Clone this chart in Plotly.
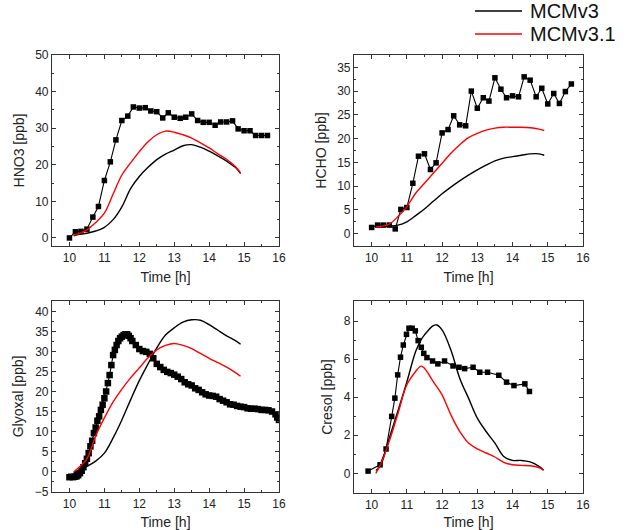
import plotly.graph_objects as go

hno3_meas_t = [10.0, 10.17, 10.33, 10.5, 10.67, 10.83, 11.0, 11.17, 11.33, 11.5, 11.67, 11.83,
               12.0, 12.17, 12.33, 12.5, 12.67, 12.83, 13.0, 13.17, 13.33, 13.5, 13.67, 13.83,
               14.0, 14.17, 14.33, 14.5, 14.67, 14.83, 15.0, 15.17, 15.33, 15.5, 15.67]
hno3_meas = [0.0, 1.7, 1.8, 2.4, 5.7, 8.6, 15.7, 20.8, 26.8, 32.1, 33.3, 35.8,
             35.5, 35.6, 34.7, 34.5, 32.8, 34.2, 33.0, 32.7, 33.0, 33.9, 32.1, 31.6,
             31.6, 30.8, 31.7, 31.7, 32.0, 29.8, 29.3, 29.3, 28.0, 28.0, 28.0]

hcho_meas_t = hno3_meas_t
hcho_meas = [1.3, 1.8, 1.8, 1.8, 1.0, 5.1, 5.5, 10.6, 16.3, 16.8, 13.5, 14.9,
             21.2, 21.9, 24.8, 22.9, 22.7, 30.0, 26.4, 28.6, 27.9, 32.8, 30.4, 28.6,
             29.0, 28.8, 33.0, 32.3, 28.8, 30.6, 27.3, 29.5, 27.4, 29.9, 31.5]

model_t = [10.12, 10.25, 10.5, 10.75, 11.0, 11.25, 11.5, 11.75, 12.0, 12.25, 12.5,
           12.75, 13.0, 13.25, 13.5, 13.75, 14.0, 14.25, 14.5, 14.75, 14.9]
hno3_v3 = [0.6, 0.9, 1.3, 1.9, 2.9, 5.0, 8.5, 13.5, 16.8, 19.3, 21.4,
           22.9, 24.0, 25.2, 25.5, 24.8, 23.7, 22.4, 21.0, 19.3, 17.6]
hno3_v31 = [0.8, 1.1, 2.2, 4.2, 6.8, 12.0, 17.2, 20.5, 23.6, 26.3, 28.2,
            29.2, 28.9, 28.2, 27.3, 26.0, 24.6, 23.0, 21.5, 19.5, 17.8]
hcho_v3 = [1.5, 1.5, 1.6, 1.8, 2.5, 3.8, 5.2, 6.8, 8.4, 9.8, 11.1,
           12.3, 13.4, 14.4, 15.3, 15.9, 16.2, 16.5, 16.8, 16.8, 16.5]
hcho_v31 = [1.4, 1.5, 2.0, 3.6, 5.7, 8.5, 10.6, 12.7, 14.8, 16.9, 18.7,
            20.2, 21.1, 21.8, 22.2, 22.4, 22.4, 22.4, 22.3, 22.0, 21.7]

glyoxal_meas_t = [10.0, 10.05, 10.1, 10.15, 10.2, 10.25, 10.3, 10.35, 10.4, 10.45, 10.5,
                  10.55, 10.6, 10.65, 10.7, 10.75, 10.8, 10.85, 10.9, 10.95, 11.0,
                  11.05, 11.1, 11.15, 11.2, 11.25, 11.3, 11.35, 11.4, 11.45, 11.5,
                  11.55, 11.6, 11.65, 11.7, 11.75, 11.8, 11.9, 12.0, 12.1, 12.2,
                  12.3, 12.4, 12.5, 12.6, 12.7, 12.8, 12.9, 13.0, 13.1, 13.2,
                  13.3, 13.4, 13.5, 13.6, 13.7, 13.8, 13.9, 14.0, 14.1, 14.2,
                  14.3, 14.4, 14.5, 14.6, 14.7, 14.8, 14.9, 15.0, 15.1, 15.2,
                  15.3, 15.4, 15.5, 15.6, 15.7, 15.8, 15.9, 15.95, 16.0]
glyoxal_meas = [-1.3, -1.2, -1.3, -1.2, -1.1, -0.8, -0.3, 0.3, 1.2, 2.2, 3.3,
                4.7, 6.4, 7.8, 9.7, 11.1, 12.8, 13.9, 15.5, 16.8, 18.4,
                20.1, 22.2, 24.2, 26.7, 29.2, 30.5, 31.7, 32.7, 33.4, 33.8,
                34.2, 34.4, 34.4, 34.0, 33.4, 32.7, 31.7, 30.7, 30.2, 30.0,
                29.5, 28.4, 27.0, 26.2, 25.5, 25.0, 24.7, 24.3, 23.8, 23.2,
                22.4, 21.9, 21.6, 20.9, 20.5, 19.9, 19.4, 19.1, 19.0, 18.8,
                18.2, 17.8, 17.4, 16.9, 16.8, 16.5, 16.3, 16.2, 15.9, 15.8,
                15.8, 15.7, 15.5, 15.5, 15.4, 15.1, 14.4, 13.6, 13.0]
glyoxal_v3 = [-0.2, 0.4, 1.4, 2.7, 4.7, 8.5, 13.0, 18.0, 22.8, 27.0, 31.0,
              34.2, 36.0, 37.4, 38.0, 37.9, 36.8, 35.4, 34.0, 32.8, 31.9]
glyoxal_v31 = [0.0, 1.0, 3.3, 9.0, 13.5, 17.5, 20.7, 23.5, 26.0, 28.5, 30.5,
               31.6, 32.1, 31.6, 30.8, 29.6, 28.4, 27.3, 26.2, 24.8, 23.9]

cresol_meas_t = [9.9, 10.24, 10.41, 10.57, 10.66, 10.74, 10.82, 10.9, 10.99, 11.06,
                 11.15, 11.24, 11.32, 11.41, 11.48, 11.57, 11.73, 11.88, 12.07, 12.31,
                 12.48, 12.64, 12.88, 13.07, 13.29, 13.61, 13.83, 14.04, 14.35, 14.48]
cresol_meas = [0.12, 0.45, 1.28, 2.99, 3.95, 5.17, 6.1, 6.74, 7.3, 7.62,
               7.62, 7.48, 6.97, 6.62, 6.3, 6.08, 5.9, 5.75, 5.9, 5.64,
               5.57, 5.5, 5.57, 5.31, 5.31, 5.15, 4.79, 4.61, 4.7, 4.3]
cresol_model_t = [10.12, 10.25, 10.5, 10.75, 11.0, 11.25, 11.4, 11.5, 11.75, 11.85, 12.0, 12.25,
                  12.5, 12.75, 13.0, 13.25, 13.5, 13.75, 14.0, 14.25, 14.5, 14.75, 14.88]
cresol_v3 = [0.15, 0.4, 1.85, 3.3, 4.8, 6.4, 7.0, 7.27, 7.76, 7.79, 7.53, 6.48,
             5.0, 3.95, 2.9, 2.2, 1.59, 0.89, 0.68, 0.68, 0.6, 0.37, 0.17]
cresol_v31 = [0.0, 0.45, 1.68, 3.16, 4.65, 5.35, 5.63, 5.52, 4.82, 4.55, 4.12, 3.07,
              2.2, 1.59, 1.29, 1.07, 0.86, 0.58, 0.45, 0.42, 0.40, 0.3, 0.17]

W, H = 634, 530
FONT = "Liberation Sans, Arial, sans-serif"

panels = [
    # (meas_t, meas, model t, v3, v3.1, y title, yrange, dtick, marker size, px box)
    (hno3_meas_t, hno3_meas, model_t, hno3_v3, hno3_v31, "HNO3 [ppb]", [-2.2, 50], 10, 5.5, (52, 279, 55, 246)),
    (hcho_meas_t, hcho_meas, model_t, hcho_v3, hcho_v31, "HCHO [ppb]", [-2.6, 37.6], 5, 5.5, (354, 583, 55, 246)),
    (glyoxal_meas_t, glyoxal_meas, model_t, glyoxal_v3, glyoxal_v31, "Glyoxal [ppb]", [-5, 42.7], 5, 6.5, (52, 279, 301, 492)),
    (cresol_meas_t, cresol_meas, cresol_model_t, cresol_v3, cresol_v31, "Cresol [ppb]", [-1.03, 9.05], 2, 5.5, (354, 583, 301, 493)),
]

fig = go.Figure()
axis_common = dict(showline=True, linecolor="#333", linewidth=1.2, mirror="allticks",
                   ticks="inside", ticklen=4, tickwidth=1, tickcolor="#333",
                   showgrid=False, zeroline=False, automargin=False,
                   tickfont=dict(family=FONT, size=12, color="#222"))

for i, (mt, mv, tt, v3, v31, ytitle, yr, dt, ms, box) in enumerate(panels):
    n = "" if i == 0 else str(i + 1)
    xa, ya = "x" + n, "y" + n
    fig.add_trace(go.Scatter(x=mt, y=mv, xaxis=xa, yaxis=ya, mode="lines+markers",
                             line=dict(color="black", width=1.1),
                             marker=dict(symbol="square", size=ms, color="black"),
                             showlegend=False))
    fig.add_trace(go.Scatter(x=tt, y=v3, xaxis=xa, yaxis=ya, mode="lines",
                             line=dict(color="black", width=1.4), line_shape="spline",
                             showlegend=False))
    fig.add_trace(go.Scatter(x=tt, y=v31, xaxis=xa, yaxis=ya, mode="lines",
                             line=dict(color="#ff0000", width=1.4), line_shape="spline",
                             showlegend=False))
    x0, x1, y0, y1 = box
    fig.layout["xaxis" + n] = dict(axis_common, domain=[x0 / W, x1 / W], anchor=ya,
                                   range=[9.5, 16], dtick=1, tick0=10,
                                   minor=dict(dtick=0.5, ticks="inside", ticklen=2, tickcolor="#333"),
                                   title=dict(text="Time [h]", standoff=8,
                                              font=dict(family=FONT, size=14, color="#222")))
    fig.layout["yaxis" + n] = dict(axis_common, domain=[1 - y1 / H, 1 - y0 / H], anchor=xa,
                                   range=yr, dtick=dt, tick0=0,
                                   minor=dict(dtick=dt / 2, ticks="inside", ticklen=2, tickcolor="#333"),
                                   title=dict(text=ytitle, standoff=7,
                                              font=dict(family=FONT, size=14, color="#222")))

# legend drawn at the top right
for yc, col, name in [(11, "black", "MCMv3"), (34, "#ff0000", "MCMv3.1")]:
    fig.add_shape(type="line", xref="paper", yref="paper", x0=475 / W, x1=522 / W,
                  y0=1 - yc / H, y1=1 - yc / H, line=dict(color=col, width=1.3))
    fig.add_annotation(text=name, xref="paper", yref="paper", x=528 / W, y=1 - yc / H,
                       xanchor="left", yanchor="middle", showarrow=False,
                       font=dict(family=FONT, size=20, color="#111"))

fig.update_layout(width=W, height=H, template="none", margin=dict(l=0, r=0, t=0, b=0),
                  paper_bgcolor="white", plot_bgcolor="white", showlegend=False,
                  font=dict(family=FONT))
# page body has a default 8px margin, drop it so the figure fills the window
fig.write_html("out.html", config={"displayModeBar": False},
               post_script="document.body.style.margin='0';")
